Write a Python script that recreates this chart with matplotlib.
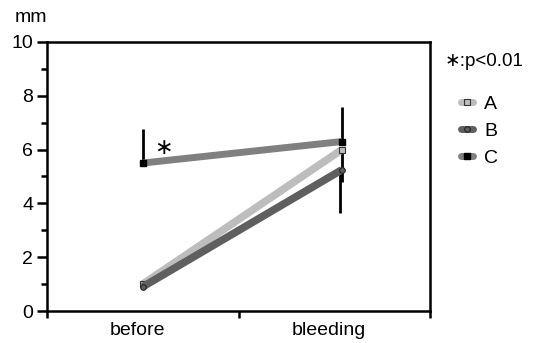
import matplotlib
matplotlib.use("Agg")
import matplotlib.pyplot as plt
from matplotlib.lines import Line2D
import numpy as np

plt.rcParams['font.family'] = ['Liberation Sans', 'DejaVu Sans']

categories = ["before", "bleeding"]
series = ["A", "B", "C"]
values_A = [1.0, 6.0]
values_B = [0.9, 5.25]
values_C = [5.5, 6.3]
err_A_low = [0.0, 1.2]
err_B_low = [0.0, 1.6]
err_C_up = [1.25, 1.3]

fig = plt.figure(figsize=(5.34, 3.43), dpi=100)
ax = fig.add_axes([47/534, 1-311/343, 383/534, 269/343])

x = np.arange(len(categories)) + np.array([0.0, 0.04])
cA, cB, cC = "#bdbdbd", "#5f5f5f", "#808080"

ax.errorbar(x, values_A, yerr=[err_A_low, [0, 0]], fmt='none', ecolor='black', elinewidth=2, capsize=0, zorder=2)
ax.errorbar(x - 0.01, values_B, yerr=[err_B_low, [0, 0]], fmt='none', ecolor='black', elinewidth=2, capsize=0, zorder=2)
ax.errorbar(x, values_C, yerr=[[0, 0], err_C_up], fmt='none', ecolor='black', elinewidth=2, capsize=0, zorder=2)

ax.plot(x, values_A, color=cA, lw=5.5, solid_capstyle='butt', zorder=3,
        marker='s', ms=4, mfc=cA, mec='#333333', mew=0.8)
ax.plot(x, values_B, color=cB, lw=5.5, solid_capstyle='butt', zorder=3,
        marker='o', ms=4, mfc=cB, mec='#222222', mew=0.8)
ax.plot(x, values_C, color=cC, lw=5, solid_capstyle='butt', zorder=4,
        marker='s', ms=5, mfc='black', mec='black')

ax.text(0.06, 5.7, "∗", fontsize=16, ha='left', va='bottom', family=['DejaVu Sans'])

ax.set_xlim(-0.5, 1.5)
ax.set_ylim(0, 10)
ax.set_xticks([-0.5, 0.5, 1.5])
ax.set_xticklabels([])
for i, c in enumerate(categories):
    ax.text(i - 0.03, -0.4, c, ha='center', va='top', fontsize=14, transform=ax.transData)
ax.set_yticks([0, 2, 4, 6, 8, 10])
ax.set_yticks([1, 3, 5, 7, 9], minor=True)
ax.tick_params(axis='y', which='major', direction='out', length=7, width=1.8, labelsize=14, pad=3)
ax.tick_params(axis='y', which='minor', direction='out', length=4, width=1.8)
ax.tick_params(axis='x', which='major', direction='out', length=5, width=1.8)
for s in ax.spines.values():
    s.set_linewidth(1.8)

fig.text(15/534, 1-18/343, "mm", fontsize=14, ha='left', va='center')
fig.text(445/534, 1-62/343, "∗:p<0.01", fontsize=13.5, ha='left', va='center',
         family=['Liberation Sans', 'DejaVu Sans'])

handles = [
    Line2D([], [], color=cA, lw=5, solid_capstyle='round', marker='s', ms=4, mfc=cA, mec='#333333', mew=0.8),
    Line2D([], [], color=cB, lw=5, solid_capstyle='round', marker='o', ms=4, mfc=cB, mec='#222222', mew=0.8),
    Line2D([], [], color=cC, lw=5, solid_capstyle='round', marker='s', ms=5, mfc='black', mec='black'),
]
fig.legend(handles, series, loc='upper left', bbox_to_anchor=(461/534, 1-95/343),
           frameon=False, fontsize=14, handlelength=0.6, handletextpad=0.6,
           labelspacing=0.5, borderaxespad=0, borderpad=0)

fig.savefig("out.png", dpi=100)
